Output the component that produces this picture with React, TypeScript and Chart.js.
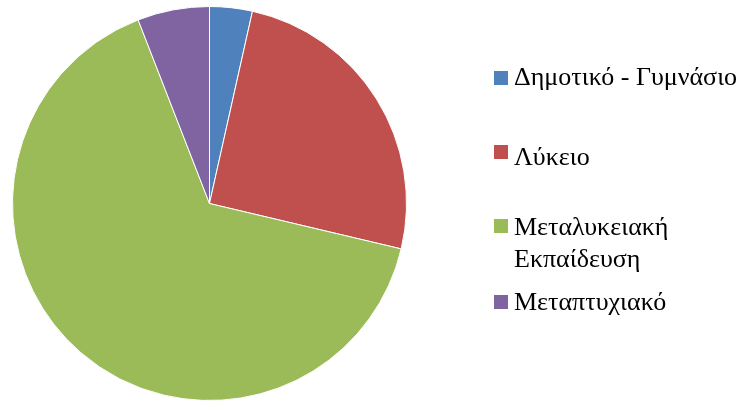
import React, { useEffect, useRef } from "react";
import { Chart, registerables } from "chart.js";

Chart.register(...registerables);

const categories: string[][] = [
  ["Δημοτικό - Γυμνάσιο"],
  ["Λύκειο"],
  ["Μεταλυκειακή", "Εκπαίδευση"],
  ["Μεταπτυχιακό"],
];
const values: number[] = [3.5, 25.2, 65.4, 5.9];
const colors: string[] = ["#4F81BD", "#C0504D", "#9BBB59", "#8064A2"];

const legendTextTops = [61, 141, 211, 286];
const legendBoxTops = [71, 145, 219, 295];

export default function App() {
  const ref = useRef<HTMLCanvasElement | null>(null);

  useEffect(() => {
    document.body.style.margin = "0";
    if (!ref.current) return;
    const chart = new Chart(ref.current, {
      type: "pie",
      data: {
        labels: categories.map((c) => c.join(" ")),
        datasets: [
          {
            data: values,
            backgroundColor: colors,
            borderColor: "#ffffff",
            borderWidth: 1,
          },
        ],
      },
      options: {
        responsive: false,
        animation: false,
        layout: { padding: { left: 12, top: 6, right: 340, bottom: 0 } },
        plugins: {
          legend: { display: false },
          tooltip: { enabled: false },
        },
      },
    });
    return () => chart.destroy();
  }, []);

  return (
    <div style={{ position: "relative", width: 747, height: 401, background: "#fff" }}>
      <canvas ref={ref} width={747} height={401} style={{ display: "block" }} />
      {categories.map((lines, i) => (
        <React.Fragment key={i}>
          <div
            style={{
              position: "absolute",
              left: 494,
              top: legendBoxTops[i],
              width: 14,
              height: 14,
              background: colors[i],
            }}
          />
          <div
            style={{
              position: "absolute",
              left: 514,
              top: legendTextTops[i],
              font: "26px 'Liberation Serif', 'Times New Roman', serif",
              lineHeight: "32px",
              color: "#000",
              whiteSpace: "nowrap",
            }}
          >
            {lines.map((l, j) => (
              <div key={j}>{l}</div>
            ))}
          </div>
        </React.Fragment>
      ))}
    </div>
  );
}
